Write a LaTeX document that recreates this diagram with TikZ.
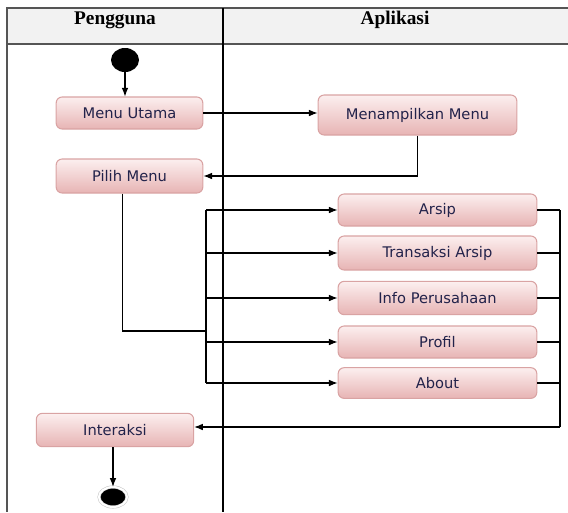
\documentclass[tikz,border=0pt]{standalone}
\usepackage{fontspec}
\setmainfont{Liberation Serif}
\newfontfamily\boxfont{DejaVu Sans}
\usepackage{tikz}
\usetikzlibrary{arrows.meta, positioning, shapes.geometric}
\definecolor{boxtop}{HTML}{FCEFEF}
\definecolor{boxbot}{HTML}{E7B4B4}
\definecolor{boxline}{HTML}{D9A3A3}
\definecolor{boxtext}{HTML}{22224A}
\definecolor{headfill}{HTML}{F2F2F2}
\definecolor{laneline}{HTML}{555555}
\tikzset{
  activity/.style={rectangle, rounded corners=4.5pt, draw=boxline, line width=0.8pt,
    top color=boxtop, bottom color=boxbot, text=boxtext, font=\boxfont\fontsize{11}{13}\selectfont,
    minimum height=24pt, inner sep=0pt},
  appbox/.style={activity, minimum width=149pt},
  userbox/.style={activity, minimum width=110pt},
  flow/.style={-{Latex[length=6.5pt, width=5pt]}, line width=0.8pt},
  bus/.style={line width=0.8pt},
  lanehead/.style={font=\bfseries\fontsize{14.5}{16}\selectfont}
}

\begin{document}
\begin{tikzpicture}[x=0.75pt, y=-0.75pt]
        \useasboundingbox (0,0) rectangle (568,512);
        % Swimlanes
        \fill[headfill] (7,8) rectangle (568,44);
        \draw[laneline, line width=1.5pt] (568,8) -- (7,8) -- (7,512);
        \draw[laneline, line width=1.5pt] (7,44) -- (568,44);
        \draw[black, line width=1pt] (223,8) -- (223,512);
        \node[lanehead] (pengguna) at (115,20) {Pengguna};
        \node[lanehead] (aplikasi) at (395,20) {Aplikasi};

        % Nodes
        \node[ellipse, fill=black, minimum width=21pt, minimum height=18pt, inner sep=0pt] (start) at (125,60) {};
        \node[userbox] (menu) at (129.5,113) {Menu Utama};
        \node[appbox, minimum height=30pt] (tampil) at (417.5,115) {Menampilkan Menu};
        \node[userbox, minimum height=25.5pt] (pilih) at (129.5,176) {Pilih Menu};
        \node[appbox] (arsip) at (437.5,210) {Arsip};
        \node[appbox, minimum height=25.5pt] (transaksi) at (437.5,253) {Transaksi Arsip};
        \node[appbox, minimum height=25pt] (info) at (437.5,298) {Info Perusahaan};
        \node[appbox] (profil) at (437.5,342) {Profil};
        \node[appbox, minimum height=23pt] (about) at (437.5,383) {About};
        \node[activity, minimum width=118pt, minimum height=25pt] (interaksi) at (115,430) {Interaksi};
        \node[ellipse, fill=black, draw=gray!45, double=white, double distance=1.5pt,
              minimum width=21pt, minimum height=15pt, inner sep=0pt] (end) at (113,497) {};

        % Helper points
        \coordinate (join) at (206,331);
        \coordinate (fork) at (206,210);
        \coordinate (merge) at (560,427);

        % Directed edges
        \draw[flow] (start) -- (start |- menu.north);
        \draw[flow] (menu.east) -- (menu.east -| tampil.west);
        \draw[flow] (tampil.south) |- (pilih.east);
        \draw[bus] ([xshift=-5.5pt]pilih.south) |- (join);
        \draw[bus] (fork) -- (fork |- about);
        \foreach \b in {arsip, transaksi, info, profil, about}
          \draw[flow] (fork |- \b) -- (\b.west);
        \foreach \b in {arsip, transaksi, info, profil, about}
          \draw[bus] (\b.east) -- (\b.east -| merge);
        \draw[bus] (merge |- arsip) -- (merge);
        \draw[flow] (merge) -- (merge -| interaksi.east);
        \draw[flow] (interaksi.south -| end) -- (end);
    \end{tikzpicture}
\end{document}
